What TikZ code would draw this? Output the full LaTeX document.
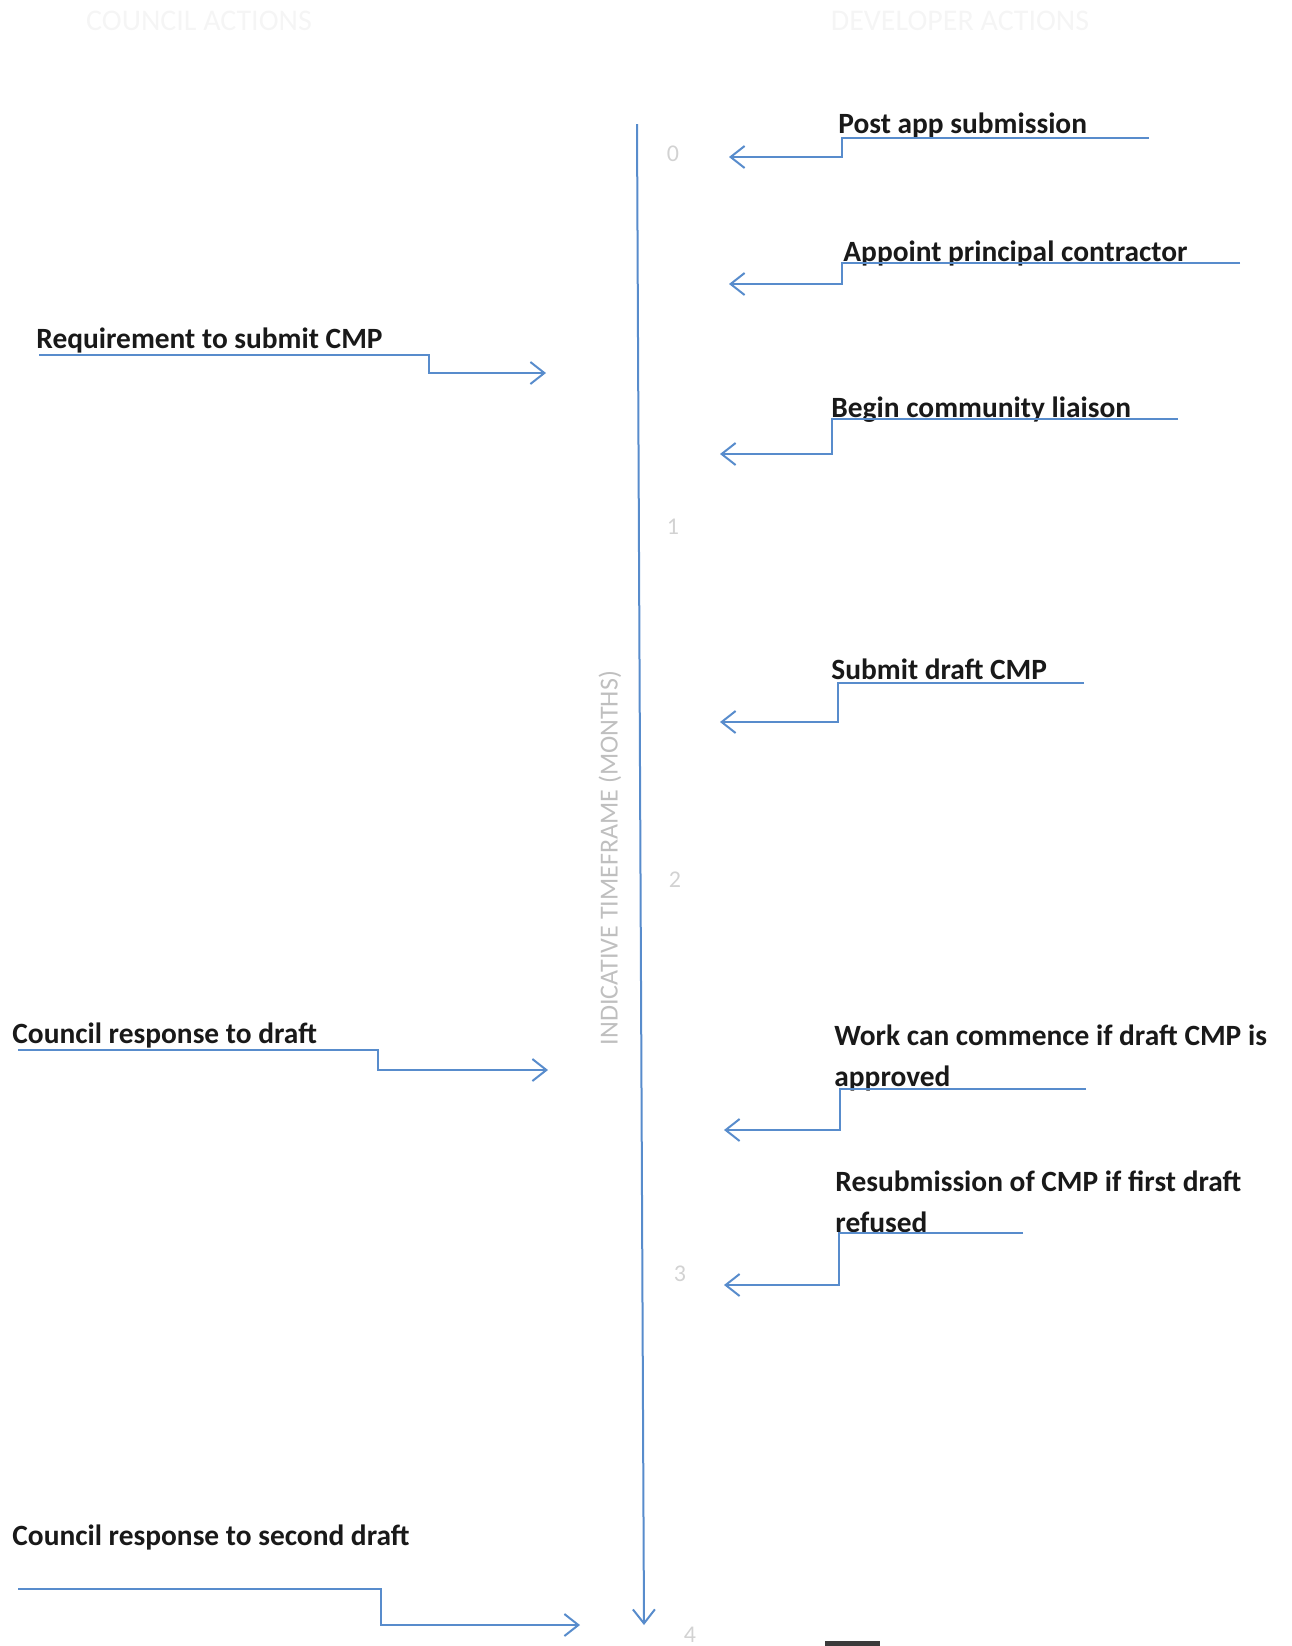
\documentclass[tikz,border=0pt]{standalone}
\usepackage{fontspec}
\setmainfont{Carlito}
\usetikzlibrary{arrows.meta, positioning}

\definecolor{cmpblue}{RGB}{88,140,204}
\definecolor{inkblack}{RGB}{25,25,25}

\begin{document}
\begin{tikzpicture}[
    x=0.5pt, y=-0.5pt,
    act/.style={font=\fontsize{14.7}{20.5}\selectfont\bfseries, text=inkblack, inner sep=0pt, anchor=base west, align=left},
    flow/.style={draw=cmpblue, line width=1pt, -{Straight Barb[length=7pt, width=11pt]}},
    month/.style={font=\fontsize{12}{12}\selectfont, text=gray!35},
    head/.style={font=\fontsize{15}{15}\selectfont, text=gray!8}
  ]
  \useasboundingbox (0,0) rectangle (1292,1646);

  \node[head] (council) at (199,21) {COUNCIL ACTIONS};
  \node[head] (developer) at (960,21) {DEVELOPER ACTIONS};

  % time axis
  \coordinate (ax-top) at (637,124);
  \coordinate (ax-bot) at (644,1625);
  \draw[flow] (ax-top) -- (ax-bot);
  \node[rotate=90, font=\fontsize{13}{13}\selectfont, text=gray!50] (axlabel) at (610,858) {INDICATIVE TIMEFRAME (MONTHS)};

  \foreach \m/\mx/\my in {0/673/154, 1/673/527, 2/675/880, 3/680/1274, 4/690/1635} {
      \node[month] (m\m) at (\mx,\my) {\m};
    }

  % developer actions
  \node[act] (post) at (838,133) {Post app submission};
  \node[act] (appoint) at (843,261) {Appoint principal contractor};
  \node[act] (liaison) at (831,417) {Begin community liaison};
  \node[act] (draft) at (831,679) {Submit draft CMP};
  \node[act] (work) at (834,1086) {Work can commence if draft CMP is\\approved};
  \node[act] (resub) at (835,1232) {Resubmission of CMP if first draft\\refused};

  % council actions
  \node[act] (require) at (36,348) {Requirement to submit CMP};
  \node[act] (resp1) at (12,1043) {Council response to draft};
  \node[act] (resp2) at (12,1545) {Council response to second draft};

  \foreach \n/\sx/\sy/\kx/\ky/\ex in {
      post/1149/137.5/842/157/729, appoint/1240/263/842/284/729,
      liaison/1178/419/832/454/720, draft/1084/683/838/722/720,
      work/1086/1089/840/1130/724, resub/1023/1233/839/1285/724,
      require/39/355/429/373/546, resp1/18/1050/378/1070/548,
      resp2/18/1589/381/1625/580} {
      \coordinate (\n-s) at (\sx,\sy);
      \coordinate (\n-k) at (\kx,\ky);
      \coordinate (\n-e) at (\ex,\ky);
      \draw[flow] (\n-s) -| (\n-k) -- (\n-e);
    }

  \fill[inkblack!85] (825,1641) rectangle (880,1646);

\end{tikzpicture}
\end{document}
